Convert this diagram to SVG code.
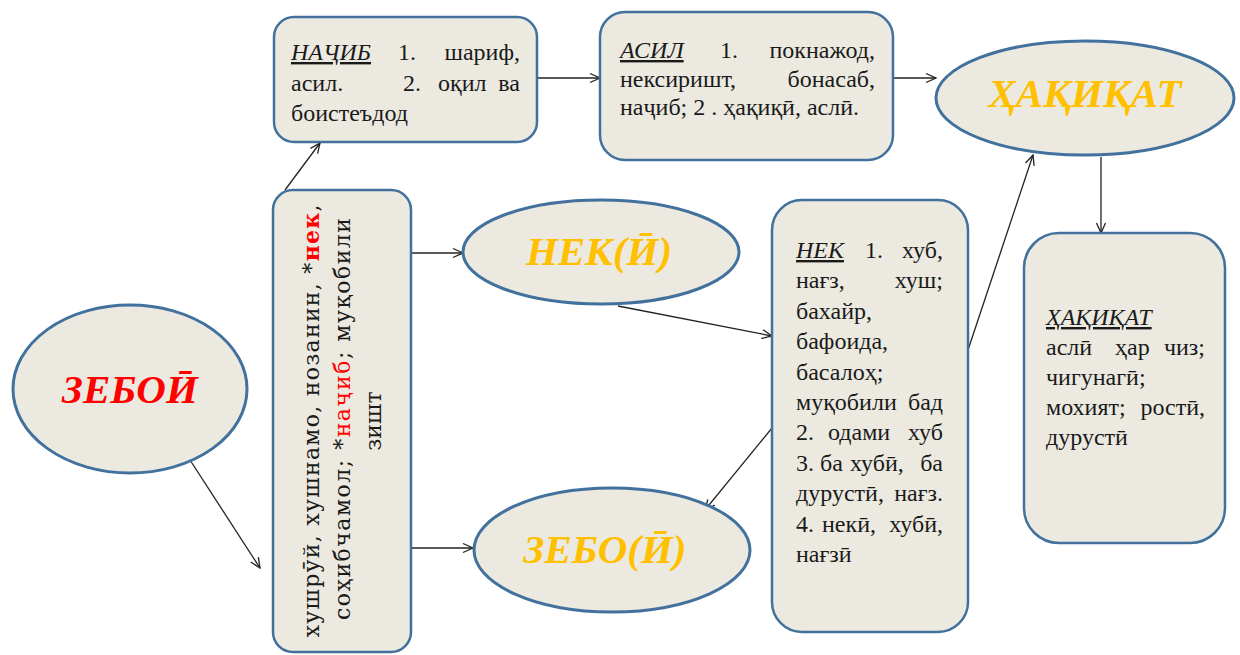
<svg xmlns="http://www.w3.org/2000/svg" width="1240" height="655" viewBox="0 0 1240 655">
<defs>
<marker id="a" viewBox="0 0 12 12" refX="11" refY="6" markerWidth="12" markerHeight="12" markerUnits="userSpaceOnUse" orient="auto">
<path d="M1,1.5 L11,6 L1,10.5" fill="none" stroke="#222" stroke-width="1.3"/>
</marker>
<style>
.box{fill:#ECEAE0;stroke:#41719C;stroke-width:2.5}
.ell{fill:#ECEAE0;stroke:#41719C;stroke-width:3}
.t{font-size:24px;fill:#1a1a1a}
.h{font-style:italic;text-decoration:underline}
.big{font-weight:bold;font-style:italic;font-size:41px;text-anchor:middle}
.gold{fill:#FFC000}
.red{fill:#FF0000}
.v{font-family:"DejaVu Serif","Liberation Serif",serif;font-size:22px;fill:#1a1a1a;text-anchor:middle}
.conn{stroke:#222;stroke-width:1.3;fill:none;marker-end:url(#a)}
</style>
</defs>
<rect width="1240" height="655" fill="#ffffff"/>
<g id="connectors">
<path class="conn" d="M190,460 L260,568"/>
<path class="conn" d="M285,190 L320,143"/>
<path class="conn" d="M411,253 L463,253"/>
<path class="conn" d="M411,548 L473,548"/>
<path class="conn" d="M537,78 L600,78"/>
<path class="conn" d="M893,78 L936,78"/>
<path class="conn" d="M618,306 L772,336"/>
<path class="conn" d="M772,428 L705,510"/>
<path class="conn" d="M968,350 L1033,155"/>
<path class="conn" d="M1101,157 L1101,233"/>
</g>
<g font-family="Liberation Serif, Times New Roman, DejaVu Serif, serif">
<g id="najib">
<rect class="box" x="274" y="17" width="263" height="125" rx="20"/>
<text class="t" y="60"><tspan x="291" class="h">НАҶИБ</tspan><tspan x="398">1.</tspan><tspan x="520" text-anchor="end">шариф,</tspan></text>
<text class="t" y="91"><tspan x="291">асил.</tspan><tspan x="403">2.</tspan><tspan x="438">оқил</tspan><tspan x="520" text-anchor="end">ва</tspan></text>
<text class="t" x="291" y="121">боистеъдод</text>
</g>
<g id="asil">
<rect class="box" x="600" y="12" width="293" height="148" rx="25"/>
<text class="t" y="58"><tspan x="620" class="h">АСИЛ</tspan><tspan x="720">1.</tspan><tspan x="875" text-anchor="end">покнажод,</tspan></text>
<text class="t" y="87"><tspan x="620">нексиришт,</tspan><tspan x="875" text-anchor="end">бонасаб,</tspan></text>
<text class="t" x="620" y="115">наҷиб; 2 . ҳақиқӣ, аслӣ.</text>
</g>
<g id="haqiqat-ellipse">
<ellipse class="ell" cx="1085" cy="98" rx="149" ry="57"/>
<text class="big gold" x="1085" y="107">ҲАҚИҚАТ</text>
</g>
<g id="zeboi">
<ellipse class="ell" cx="130" cy="389" rx="117" ry="84"/>
<text class="big red" x="130" y="403" font-size="44">ЗЕБОӢ</text>
</g>
<g id="synonyms">
<rect class="box" x="273" y="190" width="138" height="462" rx="20"/>
<text class="v" transform="translate(319,421) rotate(-90)"><tspan x="0" y="0" textLength="433" lengthAdjust="spacing">хушрӯй, хушнамо, нозанин, *<tspan class="red" font-weight="bold">нек</tspan>,</tspan></text>
<text class="v" transform="translate(319,421) rotate(-90)"><tspan x="2" y="31" textLength="402" lengthAdjust="spacing">соҳибчамол; *<tspan class="red">наҷиб</tspan>; муқобили</tspan></text>
<text class="v" transform="translate(319,421) rotate(-90)" x="0" y="62">зишт</text>
</g>
<g id="neki-ellipse">
<ellipse class="ell" cx="601" cy="252" rx="138" ry="52"/>
<text class="big gold" x="599" y="265">НЕК(Ӣ)</text>
</g>
<g id="zeboi2-ellipse">
<ellipse class="ell" cx="612" cy="550" rx="138" ry="62"/>
<text class="big gold" x="605" y="563">ЗЕБО(Ӣ)</text>
</g>
<g id="nek">
<rect class="box" x="772" y="200" width="196" height="432" rx="30"/>
<text class="t" y="258"><tspan x="796" class="h">НЕК</tspan><tspan x="865">1.</tspan><tspan x="943" text-anchor="end">хуб,</tspan></text>
<text class="t" y="288"><tspan x="796">нағз,</tspan><tspan x="943" text-anchor="end">хуш;</tspan></text>
<text class="t" x="796" y="319">бахайр,</text>
<text class="t" x="796" y="349">бафоида,</text>
<text class="t" x="796" y="380">басалоҳ;</text>
<text class="t" y="410"><tspan x="796">муқобили</tspan><tspan x="943" text-anchor="end">бад</tspan></text>
<text class="t" y="440"><tspan x="796">2.</tspan><tspan x="828">одами</tspan><tspan x="943" text-anchor="end">хуб</tspan></text>
<text class="t" y="471"><tspan x="796">3.</tspan><tspan x="820">ба</tspan><tspan x="850">хубӣ,</tspan><tspan x="943" text-anchor="end">ба</tspan></text>
<text class="t" y="501"><tspan x="796">дурустӣ,</tspan><tspan x="943" text-anchor="end">нағз.</tspan></text>
<text class="t" y="532"><tspan x="796">4.</tspan><tspan x="822">некӣ,</tspan><tspan x="943" text-anchor="end">хубӣ,</tspan></text>
<text class="t" x="796" y="562">нағзӣ</text>
</g>
<g id="haqiqat">
<rect class="box" x="1024" y="233" width="201" height="310" rx="35"/>
<text class="t h" x="1046" y="325">ҲАҚИҚАТ</text>
<text class="t" y="355"><tspan x="1046">аслӣ</tspan><tspan x="1115">ҳар</tspan><tspan x="1205" text-anchor="end">чиз;</tspan></text>
<text class="t" x="1046" y="385">чигунагӣ;</text>
<text class="t" y="415"><tspan x="1046">мохият;</tspan><tspan x="1205" text-anchor="end">ростӣ,</tspan></text>
<text class="t" x="1046" y="445">дурустӣ</text>
</g>
</g>
</svg>
